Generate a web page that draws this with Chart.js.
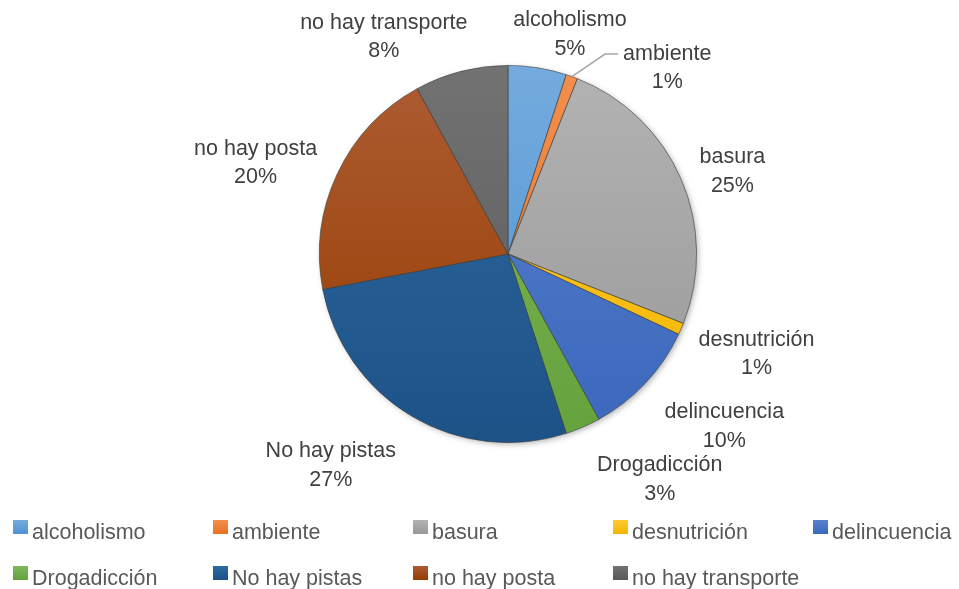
<!DOCTYPE html>
<html>
<head>
<meta charset="utf-8">
<script src="https://cdn.jsdelivr.net/npm/chart.js@4/dist/chart.umd.min.js"></script>
<style>
    body { margin: 0; background: #fff; }
    #wrap { position: relative; width: 959px; height: 589px; overflow: hidden; }
    #pieChart { position: absolute; left: 0; top: 0; }
    .legend-item {
        position: absolute;
        height: 24px;
        font: 21.5px "Liberation Sans", Arial, sans-serif;
        color: #595959;
        white-space: nowrap;
    }
    .legend-item .box { position: absolute; left: 0; top: 0; width: 15px; height: 14px; }
    .legend-item .txt { position: absolute; left: 19px; top: 0; line-height: 24px; }
</style>
</head>
<body>
<div id="wrap">
    <canvas id="pieChart" width="959" height="589"></canvas>
</div>
<script>
// data
const categories = ['alcoholismo', 'ambiente', 'basura', 'desnutrición', 'delincuencia',
    'Drogadicción', 'No hay pistas', 'no hay posta', 'no hay transporte'];
const shares = [5, 1, 25, 1, 10, 3, 27, 20, 8];

// colours (Office palette), top and bottom of the gradient
const colorsTop = ['#74abdd', '#f28f4e', '#b3b3b3', '#ffc933', '#5a82cc', '#7fb85a', '#2e6aa0', '#ad5c33', '#727272'];
const colorsBottom = ['#4d92d3', '#e8721f', '#989898', '#f2b600', '#3a67bd', '#64a23c', '#1d5287', '#953c00', '#5a5a5a'];

// label layout tweaks (px) to mimic Excel's best-fit placement
const labelNudge = [[22, 5], [77, 28], [12, 8], [13, 10], [28, 17], [48, 17], [-43, 16], [-17, 6], [-54, 3]];
const leaderFor = [1];
const LINE_H = 28.5;
const LABEL_PAD = 10;
const LABEL_FONT = '21.5px "Liberation Sans", Arial, sans-serif';

function sliceGradient(context) {
    const i = context.dataIndex;
    const area = context.chart.chartArea;
    if (!area) return colorsBottom[i];
    const g = context.chart.ctx.createLinearGradient(0, area.top, 0, area.bottom);
    g.addColorStop(0, colorsTop[i]);
    g.addColorStop(1, colorsBottom[i]);
    return g;
}

const pieShadow = {
    id: 'pieShadow',
    beforeDatasetsDraw(chart) {
        const arc = chart.getDatasetMeta(0).data[0];
        if (!arc) return;
        const p = arc.getProps(['x', 'y', 'outerRadius'], true);
        const ctx = chart.ctx;
        ctx.save();
        ctx.shadowColor = 'rgba(0,0,0,0.35)';
        ctx.shadowBlur = 6;
        ctx.shadowOffsetX = 2;
        ctx.shadowOffsetY = 2;
        ctx.fillStyle = '#888';
        ctx.beginPath();
        ctx.arc(p.x, p.y, p.outerRadius - 1, 0, Math.PI * 2);
        ctx.fill();
        ctx.restore();
    }
};

const outsideLabels = {
    id: 'outsideLabels',
    afterDatasetsDraw(chart) {
        const ctx = chart.ctx;
        const meta = chart.getDatasetMeta(0);
        const total = shares.reduce((a, b) => a + b, 0);
        ctx.save();
        ctx.font = LABEL_FONT;
        ctx.textAlign = 'center';
        ctx.textBaseline = 'middle';
        meta.data.forEach(function(arc, i) {
            const p = arc.getProps(['x', 'y', 'startAngle', 'endAngle', 'outerRadius'], true);
            const mid = (p.startAngle + p.endAngle) / 2;
            const ux = Math.cos(mid), uy = Math.sin(mid);
            const pct = Math.round(shares[i] / total * 100) + '%';
            const w = Math.max(ctx.measureText(categories[i]).width, ctx.measureText(pct).width);
            const h = LINE_H * 2;
            const R = p.outerRadius + LABEL_PAD;
            const cx = p.x + ux * R + ux * w / 2 + labelNudge[i][0];
            const cy = p.y + uy * R + uy * h / 2 + labelNudge[i][1];

            if (leaderFor.includes(i)) {
                const left = cx - ctx.measureText(categories[i]).width / 2;
                const ly = cy - LINE_H / 2;
                ctx.strokeStyle = '#a6a6a6';
                ctx.lineWidth = 1.5;
                ctx.beginPath();
                ctx.moveTo(p.x + ux * p.outerRadius, p.y + uy * p.outerRadius);
                ctx.lineTo(left - 18, ly);
                ctx.lineTo(left - 5, ly);
                ctx.stroke();
            }

            ctx.fillStyle = '#404040';
            ctx.fillText(categories[i], cx, cy - LINE_H / 2);
            ctx.fillText(pct, cx, cy + LINE_H / 2);
        });
        ctx.restore();
    }
};

new Chart(document.getElementById('pieChart'), {
    type: 'pie',
    data: {
        labels: categories,
        datasets: [{
            data: shares,
            backgroundColor: sliceGradient,
            borderColor: 'rgba(60,60,60,0.75)',
            borderWidth: 0.8
        }]
    },
    options: {
        responsive: false,
        animation: false,
        events: [],
        layout: { padding: { top: 65, bottom: 146, left: 200, right: 143 } },
        plugins: {
            legend: { display: false },
            tooltip: { enabled: false }
        }
    },
    plugins: [pieShadow, outsideLabels]
});

// legend, 5 columns like the Excel original
const wrap = document.getElementById('wrap');
categories.forEach(function(name, i) {
    const item = document.createElement('div');
    item.className = 'legend-item';
    item.style.left = (13 + (i % 5) * 200) + 'px';
    item.style.top = (i < 5 ? 520 : 566) + 'px';
    const box = document.createElement('span');
    box.className = 'box';
    box.style.background = 'linear-gradient(' + colorsTop[i] + ', ' + colorsBottom[i] + ')';
    const txt = document.createElement('span');
    txt.className = 'txt';
    txt.textContent = name;
    item.appendChild(box);
    item.appendChild(txt);
    wrap.appendChild(item);
});
</script>
</body>
</html>
